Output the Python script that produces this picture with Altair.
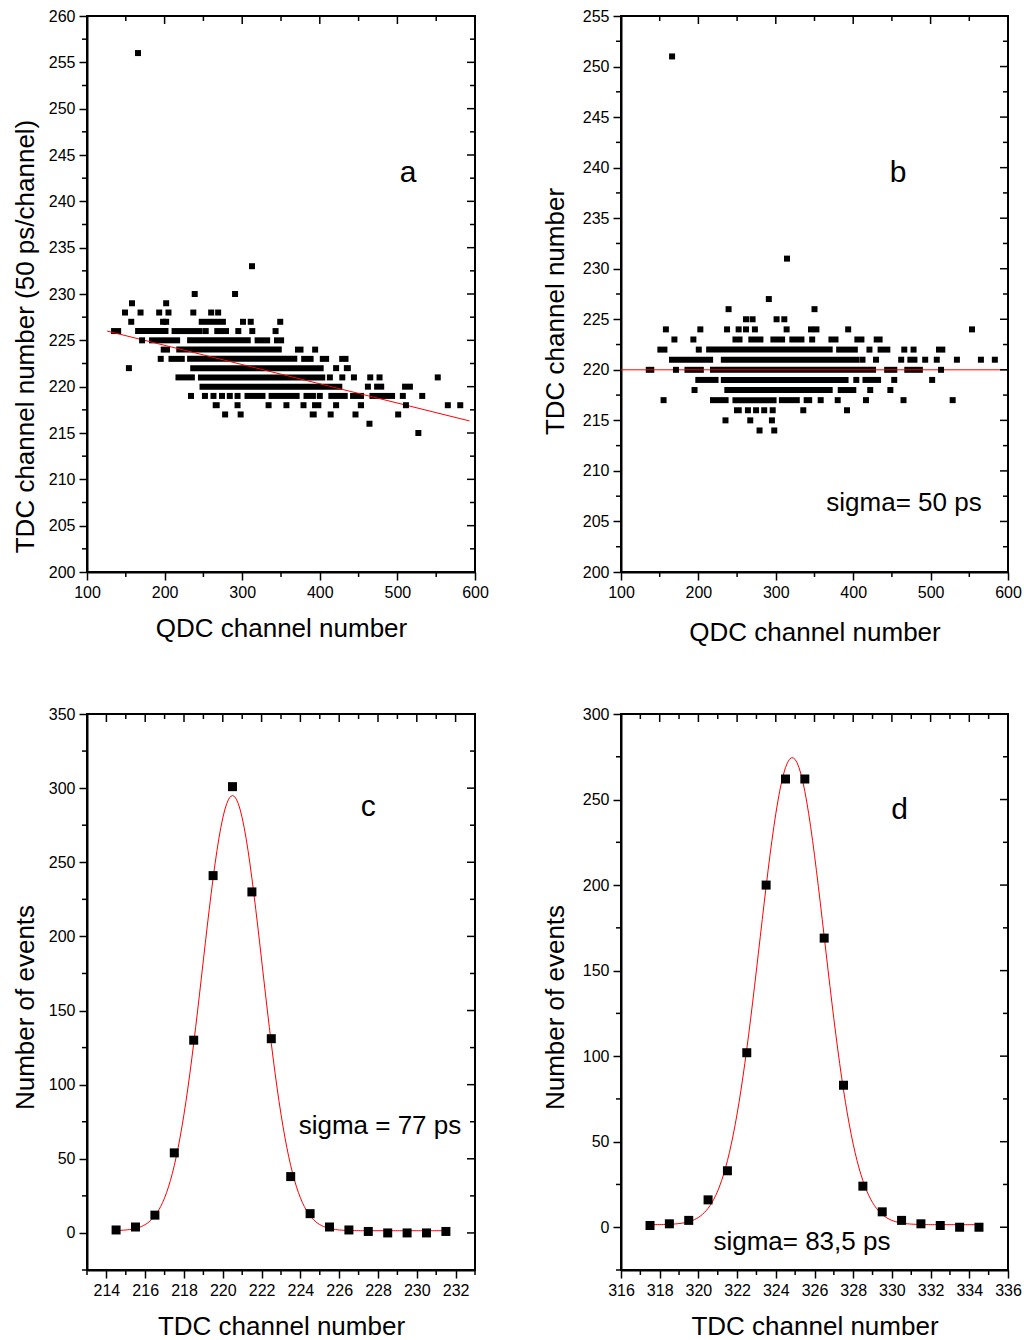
import altair as alt
import pandas as pd
import numpy as np

FONT = "Liberation Sans"

# ---------------- Panel a : TDC vs QDC (isolated points and dense runs) ----------------
a_points = [
    (165.7, 256), (312.6, 233), (238.8, 230), (290.8, 230),
    (158, 229), (202, 229),
    (149, 228), (169, 228), (193, 228), (205, 228), (237, 228), (260, 228), (269, 228),
    (157, 227), (198, 227), (202, 227), (301, 227), (311, 227), (349, 227),
    (253, 226), (295, 226), (313, 226), (343, 226),
    (171, 225),
    (394, 224),
    (195, 223),
    (154, 222), (421, 222),
    (413, 221), (429, 221), (444, 221), (465, 221), (477, 221), (552, 221),
    (462, 220),
    (234, 219), (252, 219), (263, 219), (274, 219), (284, 219), (294, 219), (400, 219), (507, 219), (532, 219),
    (294, 218), (334, 218), (357, 218), (379, 218), (421, 218), (511, 218), (565, 218), (581, 218),
    (278, 217), (298, 217), (414, 217), (446, 217), (501, 217),
    (464, 216), (527, 215),
]
a_runs = [
    (227, 244, 279),
    (226, 131, 144), (226, 162, 205), (226, 209, 249), (226, 264, 283),
    (225, 180, 220), (225, 229, 311), (225, 316, 336), (225, 341, 354),
    (224, 195, 207), (224, 215, 351), (224, 368, 379),
    (223, 205, 226), (223, 229, 371), (223, 376, 392), (223, 400, 412), (223, 425, 437),
    (222, 233, 405), (222, 431, 440),
    (221, 214, 239), (221, 243, 407),
    (220, 245, 429), (220, 470, 483), (220, 506, 520),
    (219, 303, 330), (219, 334, 374), (219, 379, 395), (219, 411, 436), (219, 439, 457), (219, 464, 497),
    (218, 262, 271), (218, 390, 402), (218, 449, 457),
    (217, 387, 396),
]
a_fit_x = [126, 593]
a_fit_y = [226.0, 216.3]

# ---------------- Panel b : corrected TDC vs QDC ----------------
b_points = [
    (166, 251), (314.5, 231), (291, 227),
    (239, 226), (350, 226),
    (261.5, 225), (270, 225), (301, 225), (311, 225),
    (158, 224), (202.5, 224), (237, 224), (252, 224), (261.5, 224), (273, 224), (314, 224),
    (345.5, 224), (352.5, 224), (393.5, 224), (553.5, 224),
    (169, 223), (193.5, 223), (347, 223),
    (200.5, 222), (421, 222), (466, 222), (478, 222),
    (412, 221), (429.5, 221), (462, 221), (493, 221), (508, 221), (534, 221), (565, 221), (583, 221),
    (171, 220), (513.5, 220),
    (404, 219), (453, 219), (502, 219),
    (195, 218), (422, 218), (448, 218),
    (155, 217), (358, 217), (380, 217), (416.5, 217), (465, 217), (528.5, 217),
    (264, 216), (274.5, 216), (285, 216), (296, 216), (335.5, 216), (392, 216),
    (235, 215), (267, 215), (295, 215),
    (279, 214), (298, 214),
]
b_runs = [
    (223, 244, 257), (223, 264.5, 284), (223, 293, 312), (223, 317.5, 337), (223, 368, 381),
    (223, 401.5, 414.5), (223, 426.5, 438),
    (222, 147, 160), (222, 210, 373.5), (222, 378, 406), (222, 431.5, 448), (222, 507, 519),
    (221, 162, 219), (221, 229, 408), (221, 470, 483),
    (220, 132, 143), (220, 182, 207), (220, 215, 429.5), (220, 440, 457), (220, 466, 490),
    (219, 196, 226), (219, 229, 394), (219, 412, 436),
    (218, 233.5, 373.5), (218, 380, 404),
    (217, 215, 239), (217, 244, 301), (217, 304, 331), (217, 336, 347),
    (216, 246, 256),
]
b_fit_x = [100, 600]
b_fit_y = [220, 220]

# ---------------- Panel c : TDC histogram ----------------
c_x = [214.5, 215.5, 216.5, 217.5, 218.5, 219.5, 220.5, 221.5, 222.5,
       223.5, 224.5, 225.5, 226.5, 227.5, 228.5, 229.5, 230.5, 231.5]
c_y = [2, 4, 12, 54, 130, 241, 301, 230, 131, 38, 13, 4, 2, 1, 0, 0, 0, 1]
c_fit = {"y0": 1.5, "A": 293.5, "xc": 220.5, "w": 1.54}   # Gaussian fit (sigma = 77 ps)

# ---------------- Panel d : TDC histogram ----------------
d_x = [317.5, 318.5, 319.5, 320.5, 321.5, 322.5, 323.5, 324.5, 325.5,
       326.5, 327.5, 328.5, 329.5, 330.5, 331.5, 332.5, 333.5, 334.5]
d_y = [1, 2, 4, 16, 33, 102, 200, 262, 262, 169, 83, 24, 9, 4, 2, 1, 0, 0]
d_fit = {"y0": 1.5, "A": 273.0, "xc": 324.85, "w": 1.68}  # Gaussian fit (sigma = 83,5 ps)


def gauss_curve(xs, fit):
    xx = np.linspace(xs[0], xs[-1], 171)
    yy = fit["y0"] + fit["A"] * np.exp(-((xx - fit["xc"]) ** 2) / (2 * fit["w"] ** 2))
    return pd.DataFrame({"x": xx, "y": yy})


def make_panel(points, runs, line_df, msize, xdom, ydom, W, H, xmaj, xmin, ymaj, ymin,
               xtitle, ytitle, xtp, ytp, ytitle_y, texts):
    xs = alt.Scale(domain=xdom, nice=False, zero=False)
    ys = alt.Scale(domain=ydom, nice=False, zero=False)
    xax = alt.Axis(values=xmaj, title=xtitle, titlePadding=xtp)
    yax = alt.Axis(values=ymaj, title=ytitle, titlePadding=ytp, titleY=ytitle_y)

    def X(f):
        return alt.X(f, scale=xs, axis=xax, title=xtitle)

    def Y(f):
        return alt.Y(f, scale=ys, axis=yax, title=ytitle)

    layers = []
    if runs is not None:
        rdf = pd.DataFrame(runs, columns=["y", "x1", "x2"])
        layers.append(alt.Chart(rdf).mark_rule(color="black", strokeWidth=6, strokeCap="butt").encode(
            x=X("x1:Q"), x2="x2:Q", y=Y("y:Q")))
    pdf = pd.DataFrame(points, columns=["x", "y"])
    layers.append(alt.Chart(line_df).mark_line(color="#ff0000", strokeWidth=1).encode(
        x=X("x:Q"), y=Y("y:Q")))
    layers.append(alt.Chart(pdf).mark_square(size=msize, color="black", opacity=1).encode(
        x=X("x:Q"), y=Y("y:Q")))

    def xt(vals, y0, y1):
        return alt.Chart(pd.DataFrame({"v": vals})).mark_rule(color="black", strokeWidth=1.5).encode(
            x=X("v:Q"), y=alt.value(y0), y2=alt.value(y1))

    def yt(vals, x0, x1):
        return alt.Chart(pd.DataFrame({"v": vals})).mark_rule(color="black", strokeWidth=1.5).encode(
            y=Y("v:Q"), x=alt.value(x0), x2=alt.value(x1))

    layers += [xt(xmin, H, H + 5), xt(xmaj, 0, 8), xt(xmin, 0, 5),
               yt(ymin, 0, -5), yt(ymaj, W, W - 8), yt(ymin, W, W - 5)]
    for (tx, ty, t, fs) in texts:
        layers.append(alt.Chart(pd.DataFrame({"x": [tx], "y": [ty], "t": [t]})).mark_text(
            font=FONT, fontSize=fs, color="black", align="center", baseline="middle").encode(
            x=X("x:Q"), y=Y("y:Q"), text="t:N"))
    return alt.layer(*layers).properties(width=W, height=H)


pa = make_panel(a_points, a_runs, pd.DataFrame({"x": a_fit_x, "y": a_fit_y}), 36,
                [100, 600], [200, 260], 388, 556,
                list(range(100, 601, 100)), list(range(150, 600, 100)),
                list(range(200, 261, 5)), [v + 2.5 for v in range(200, 260, 5)],
                "QDC channel number", "TDC channel number (50 ps/channel)", 15, 10, 320,
                [(513.7, 243.1, "a", 30)])
pb = make_panel(b_points, b_runs, pd.DataFrame({"x": b_fit_x, "y": b_fit_y}), 36,
                [100, 600], [200, 255], 387, 556,
                list(range(100, 601, 100)), list(range(150, 600, 100)),
                list(range(200, 256, 5)), [v + 2.5 for v in range(200, 255, 5)],
                "QDC channel number", "TDC channel number", 19, 14, 295,
                [(457.9, 239.5, "b", 30), (465.6, 206.8, "sigma= 50 ps", 26)])
pc = make_panel(list(zip(c_x, c_y)), None, gauss_curve(c_x, c_fit), 81,
                [213, 233], [-25, 350], 388, 556,
                list(range(214, 233, 2)), list(range(213, 234, 2)),
                list(range(0, 351, 50)), list(range(-25, 350, 50)),
                "TDC channel number", "Number of events", 15, 10, 293,
                [(227.5, 287.3, "c", 30), (228.1, 72.1, "sigma = 77 ps", 26)])
pd_ = make_panel(list(zip(d_x, d_y)), None, gauss_curve(d_x, d_fit), 81,
                 [316, 336], [-25, 300], 387, 556,
                 list(range(316, 337, 2)), list(range(317, 336, 2)),
                 list(range(0, 301, 50)), list(range(-25, 300, 50)),
                 "TDC channel number", "Number of events", 15, 14, 293,
                 [(330.4, 243.9, "d", 30), (325.35, -8.6, "sigma= 83,5 ps", 26)])

chart = alt.ConcatChart(concat=[pa, pb, pc, pd_], columns=2,
                        spacing={"row": 142, "column": 146}, bounds="flush").properties(
    padding={"left": 11, "top": 7, "right": 0, "bottom": 0}, background="white"
).configure_view(stroke="black", strokeWidth=2).configure_axis(
    labelFont=FONT, labelFontSize=16, labelColor="black", labelPadding=4,
    labelFlush=False, labelOverlap=False, labelAngle=0,
    titleFont=FONT, titleFontSize=26, titleFontWeight="normal", titleColor="black",
    domainColor="black", domainWidth=2, tickColor="black", tickWidth=1.5, tickSize=8,
    grid=False)

chart.save("out.html", embed_options={"renderer": "svg", "actions": False})
